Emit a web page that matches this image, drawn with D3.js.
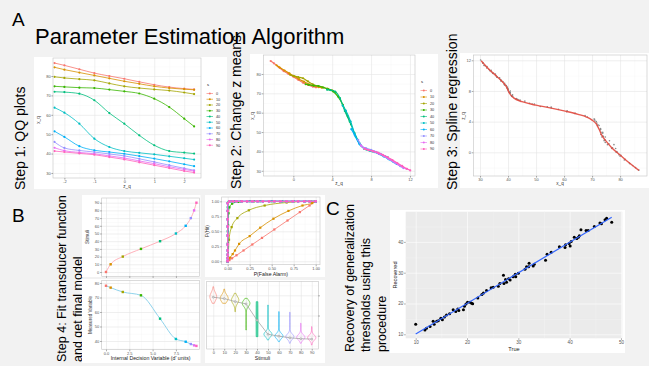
<!DOCTYPE html>
<html>
<head>
<meta charset="utf-8">
<script src="https://cdn.jsdelivr.net/npm/d3@7"></script>
<style>
  body { margin: 0; background: #f2f2f2; }
  svg { display: block; }
</style>
</head>
<body>
<svg id="fig" width="649" height="366"></svg>
<script>
// ---- data ----
const stimuli = [0, 10, 20, 30, 40, 50, 60, 70, 80, 90];
const stimColors = ['#F8766D', '#D89000', '#A3A500', '#39B600', '#00BF7D', '#00BFC4', '#00B0F6', '#9590FF', '#E76BF3', '#FF62BC'];

// step 1: sample quantiles x_q against normal quantiles z_q, one row per stimulus
const qqZ = [-2.33, -2, -1.5, -1, -0.5, 0, 0.5, 1, 1.5, 2, 2.33];
const qqX = [
  [86.7, 85.5, 83.5, 81.5, 80.0, 78.6, 77.0, 75.5, 74.3, 73.5, 73.1],
  [84.5, 83.3, 81.8, 80.3, 78.8, 77.3, 76.0, 74.7, 73.8, 73.2, 72.9],
  [79.6, 79.0, 78.4, 77.8, 76.2, 74.7, 73.8, 73.1, 72.5, 71.5, 70.7],
  [74.7, 74.4, 74.0, 73.8, 73.0, 72.1, 71.0, 68.3, 64.0, 58.0, 54.0],
  [71.9, 71.7, 70.9, 67.5, 60.9, 55.4, 49.4, 44.3, 41.3, 40.5, 40.0],
  [63.7, 61.1, 55.4, 47.7, 43.4, 41.3, 40.4, 39.6, 38.6, 37.6, 36.9],
  [51.5, 48.6, 43.8, 41.7, 40.8, 39.9, 38.7, 37.4, 36.0, 34.5, 33.5],
  [46.0, 42.9, 41.6, 40.8, 39.8, 38.8, 37.3, 35.7, 34.0, 32.4, 31.4],
  [43.0, 41.5, 40.6, 39.9, 38.8, 37.7, 36.2, 34.8, 33.2, 31.8, 31.0],
  [41.3, 40.8, 40.1, 39.4, 38.2, 37.0, 35.5, 34.0, 32.5, 31.0, 30.2]
];
// step 2: shift of each stimulus' z means
const zMeans = [0, 0.6, 2.0, 3.6, 5.8, 7.4, 8.3, 9.0, 9.3, 9.7];
// step 3: spline fit
const splineXq = [30.4, 33, 36, 38, 39.5, 40.5, 42, 45, 50, 55, 60, 65, 68, 70, 71.5, 72.5, 73.5, 75, 77, 80, 83, 86.7];
const splineZq = [11.95, 10.9, 9.9, 9.2, 8.5, 7.7, 7.1, 6.6, 6.15, 5.8, 5.4, 4.95, 4.6, 4.2, 3.7, 3.0, 2.2, 1.45, 0.6, -0.35, -1.3, -2.35];

// step 4
const dPrime = [0, 0.5, 1.8, 3.75, 5.8, 7.5, 8.55, 9.1, 9.45, 9.7];
const measured = [78.1, 76.8, 73.8, 71.5, 55.4, 41.4, 39.5, 37.9, 37.0, 36.6];
const rocEdgeHit = [0, 0.01, 0.055, 0.11, 0.18, 0.28, 0.43, 0.58, 0.70, 0.84, 0.97];
const rocTopFa = [0.02, 0.06, 0.1, 0.16, 0.22, 0.28, 0.34, 0.4, 0.47, 0.53, 0.6, 0.67, 0.74, 0.8, 0.87, 0.93, 1];
const rocFa = [
  [0, 0.02, 0.05, 0.1, 0.18, 0.28, 0.39, 0.53, 0.68, 0.82, 0.93, 1],
  [0, 0.026, 0.057, 0.083, 0.13, 0.25, 0.37, 0.52, 0.69, 0.85, 0.96, 1],
  [0, 0.005, 0.015, 0.045, 0.11, 0.24, 0.42, 0.67, 0.94, 1],
  [0, 0.002, 0.005, 0.01, 0.02, 0.05, 0.12, 0.3, 0.6, 1],
  [0, 0, 0, 0.01, 0.03, 0.08, 0.15, 0.25, 0.37, 0.5, 0.62, 0.75, 0.88, 1]
];
const rocHit = [
  [0, 0.02, 0.05, 0.1, 0.18, 0.28, 0.39, 0.53, 0.68, 0.82, 0.93, 1],
  [0, 0.06, 0.12, 0.18, 0.29, 0.42, 0.56, 0.71, 0.84, 0.93, 0.97, 1],
  [0, 0.05, 0.36, 0.57, 0.72, 0.85, 0.93, 0.98, 1, 1],
  [0, 0.3, 0.6, 0.8, 0.9, 0.96, 0.99, 1, 1, 1],
  [0, 0.5, 0.9, 0.99, 1, 1, 1, 1, 1, 1, 1, 1, 1, 1]
];
const violinLo = [72.1, 72.1, 63.8, 45.6, 39.0, 35.7, 34.1, 32.5, 32.5, 30.8];
const violinHi = [88.5, 86.2, 82.0, 77.0, 73.7, 70.4, 63.8, 63.2, 52.3, 48.9];
const violinMode = [78.6, 77.0, 75.3, 72.1, 55.4, 41.4, 39.7, 39.0, 38.4, 38.0];
const violinSpread = [4, 3.5, 3.5, 3, 30, 2.5, 2.5, 2.5, 2.5, 2.5];

// C: recovered vs true generalization thresholds
const trueThr = [10, 11.8, 12.1, 12.8, 13.4, 13.6, 14.1, 14.4, 14.9, 15.2, 15.6, 16.0, 16.6, 17.3, 17.8, 18.2, 18.4, 19.3, 19.5, 19.8,
  20.1, 20.6, 20.9, 21.1, 22.1, 22.9, 23.2, 23.8, 24.7, 25.1, 26.1, 26.4, 27.1, 27.2, 27.5, 27.7, 28.1, 28.4, 29.0, 29.4,
  29.5, 30.0, 31.3, 31.6, 32.0, 32.1, 32.9, 33.1, 35.3, 35.6, 36.4, 38.0, 39.1, 39.2, 39.9, 40.1, 40.3, 40.9, 41.4, 41.7,
  41.9, 42.2, 43.2, 43.6, 44.8, 45.9, 46.2, 46.9, 47.2, 48.2];
const recThr = [13.3, 11.4, 12.0, 12.5, 14.2, 13.3, 14.2, 14.4, 15.2, 14.7, 15.6, 16.3, 16.7, 18.0, 17.4, 18.2, 17.7, 18.0, 19.1, 19.8,
  20.4, 20.4, 20.1, 19.9, 21.8, 22.9, 23.4, 24.2, 25.1, 25.3, 25.6, 26.5, 29.2, 26.5, 27.8, 26.9, 28.0, 27.6, 28.7, 29.5,
  28.7, 29.8, 31.1, 31.9, 31.9, 33.1, 32.2, 32.7, 34.0, 36.0, 36.6, 38.4, 38.2, 39.1, 39.5, 38.7, 40.1, 41.5, 41.1, 41.5,
  42.0, 43.9, 43.7, 43.7, 45.0, 46.1, 45.9, 47.2, 47.7, 46.4];

// ---- drawing ----
const FONT = "'Liberation Sans', Arial, sans-serif";
const svg = d3.select('#fig').attr('font-family', FONT);

function box(x0, y0, x1, y1) {
  svg.append('rect').attr('x', x0).attr('y', y0).attr('width', x1 - x0).attr('height', y1 - y0).attr('fill', '#fff');
}

function label(x, y, str, size, opts) {
  opts = opts || {};
  const t = svg.append('text').attr('font-size', size).attr('fill', opts.fill || '#000').text(str);
  if (opts.rot) t.attr('transform', 'translate(' + x + ',' + y + ') rotate(-90)');
  else t.attr('x', x).attr('y', y);
  if (opts.anchor) t.attr('text-anchor', opts.anchor);
  return t;
}

// one ggplot-like panel: background, grid, border, axes; returns scales and a layer for marks
function panel(o) {
  const gray = o.theme === 'gray';
  const x = o.xScale || d3.scaleLinear().domain(o.xDomain).range([o.x0, o.x1]);
  const y = d3.scaleLinear().domain(o.yDomain).range([o.y1, o.y0]);
  const bg = svg.append('g');
  bg.append('rect').attr('x', o.x0).attr('y', o.y0).attr('width', o.x1 - o.x0).attr('height', o.y1 - o.y0)
    .attr('fill', gray ? '#ebebeb' : '#fff');

  const grid = (scale, vals, isX, color, w) => {
    if (!vals) return;
    const ax = isX ? d3.axisBottom(scale).tickSize(-(o.y1 - o.y0)) : d3.axisLeft(scale).tickSize(-(o.x1 - o.x0));
    const gg = bg.append('g')
      .attr('transform', isX ? 'translate(0,' + o.y1 + ')' : 'translate(' + o.x0 + ',0)')
      .call(ax.tickValues(vals).tickFormat(() => ''));
    gg.select('.domain').remove();
    gg.selectAll('line').attr('stroke', color).attr('stroke-width', w);
  };
  grid(x, o.xMinor, true, gray ? '#f5f5f5' : '#f4f4f4', 0.4);
  grid(y, o.yMinor, false, gray ? '#f5f5f5' : '#f4f4f4', 0.4);
  grid(x, o.xMajor, true, gray ? '#ffffff' : '#e4e4e4', 0.6);
  grid(y, o.yMajor, false, gray ? '#ffffff' : '#e4e4e4', 0.6);

  const layer = svg.append('g');

  if (!gray) {
    svg.append('rect').attr('x', o.x0).attr('y', o.y0).attr('width', o.x1 - o.x0).attr('height', o.y1 - o.y0)
      .attr('fill', 'none').attr('stroke', '#c4c4c4').attr('stroke-width', 0.6);
  }

  const fs = o.fs || 4;
  const style = a => {
    a.select('.domain').remove();
    a.attr('font-family', FONT).attr('font-size', fs);
    a.selectAll('line').attr('stroke', '#555').attr('stroke-width', 0.5);
    a.selectAll('text').attr('fill', '#555');
  };
  const xa = svg.append('g').attr('transform', 'translate(0,' + o.y1 + ')')
    .call(d3.axisBottom(x).tickValues(o.xMajor).tickSize(1.6).tickPadding(0.8)
      .tickFormat(o.xLabels === false ? () => '' : (o.xFmt || (d => d))));
  style(xa);
  const yAxis = o.yRight ? d3.axisRight(y) : d3.axisLeft(y);
  const ya = svg.append('g').attr('transform', 'translate(' + (o.yRight ? o.x1 : o.x0) + ',0)')
    .call(yAxis.tickValues(o.yMajor).tickSize(1.6).tickPadding(0.8)
      .tickFormat(o.yLabels === false ? () => '' : (o.yFmt || (d => d))));
  style(ya);
  return { x: x, y: y, g: layer };
}

function legend(x, y, dy) {
  label(x, y, 's', 4.2);
  stimuli.forEach((s, i) => {
    const yy = y + 7.5 + i * dy;
    svg.append('line').attr('x1', x - 0.5).attr('x2', x + 6).attr('y1', yy).attr('y2', yy)
      .attr('stroke', stimColors[i]).attr('stroke-width', 0.6);
    svg.append('circle').attr('cx', x + 2.8).attr('cy', yy).attr('r', 1).attr('fill', stimColors[i]);
    label(x + 9, yy + 1.4, s, 3.8, { fill: '#333' });
  });
}

// ---- panel A titles ----
label(12, 26, 'A', 19);
label(35, 43.5, 'Parameter Estimation Algorithm', 22);

// ---- step 1: QQ plots ----
box(34, 57, 227, 189);
label(25, 190, 'Step 1: QQ plots', 14, { rot: true });
const p1 = panel({
  x0: 53, x1: 201, y0: 58, y1: 178, xDomain: [-2.38, 2.56], yDomain: [27.4, 89.3],
  xMajor: [-2, -1, 0, 1, 2], xMinor: [-1.5, -0.5, 0.5, 1.5],
  yMajor: [30, 40, 50, 60, 70, 80], yMinor: [35, 45, 55, 65, 75, 85]
});
const qqLine1 = d3.line().curve(d3.curveMonotoneX).x(d => p1.x(d[0])).y(d => p1.y(d[1]));
qqX.forEach((row, i) => {
  const pts = row.map((v, j) => [qqZ[j], v]);
  p1.g.append('path').attr('d', qqLine1(pts)).attr('fill', 'none').attr('stroke', stimColors[i]).attr('stroke-width', 0.8);
  p1.g.selectAll(null).data(pts).enter().append('circle')
    .attr('cx', d => p1.x(d[0])).attr('cy', d => p1.y(d[1])).attr('r', 1.1).attr('fill', stimColors[i]);
});
label(127, 187.5, 'z_q', 4.6, { anchor: 'middle', fill: '#333' });
label(40, 120, 'x_q', 4.6, { rot: true, anchor: 'middle', fill: '#333' });
legend(207, 86, 5.75);

// ---- step 2: change z means ----
box(250, 54, 438, 188);
label(241, 189, 'Step 2: Change z means', 14, { rot: true });
const p2 = panel({
  x0: 263.3, x1: 415, y0: 55, y1: 176, xDomain: [-3.09, 12.52], yDomain: [27.3, 89.8],
  xMajor: [0, 4, 8, 12], xMinor: [-2, 2, 6, 10],
  yMajor: [30, 40, 50, 60, 70, 80], yMinor: [35, 45, 55, 65, 75, 85]
});
const qqLine2 = d3.line().curve(d3.curveMonotoneX).x(d => p2.x(d[0])).y(d => p2.y(d[1]));
qqX.forEach((row, i) => {
  const pts = row.map((v, j) => [qqZ[j] + zMeans[i], v]);
  p2.g.append('path').attr('d', qqLine2(pts)).attr('fill', 'none').attr('stroke', stimColors[i]).attr('stroke-width', 1.2);
  p2.g.selectAll(null).data(pts).enter().append('circle')
    .attr('cx', d => p2.x(d[0])).attr('cy', d => p2.y(d[1])).attr('r', 1.1).attr('fill', stimColors[i]);
});
label(339, 185, 'z_q', 4.6, { anchor: 'middle', fill: '#333' });
label(254, 116, 'x_q', 4.6, { rot: true, anchor: 'middle', fill: '#333' });
legend(421, 83, 6.5);

// ---- step 3: spline regression ----
box(460, 53, 649, 188);
label(457, 190, 'Step 3: Spline regression', 14, { rot: true });
const p3 = panel({
  x0: 473.3, x1: 647, y0: 55, y1: 176, xDomain: [27.6, 89.6], yDomain: [-3.09, 12.69],
  xMajor: [30, 40, 50, 60, 70, 80], xMinor: [35, 45, 55, 65, 75, 85],
  yMajor: [0, 4, 8, 12], yMinor: [-2, 2, 6, 10]
});
qqX.forEach((row, i) => {
  p3.g.selectAll(null).data(row.map((v, j) => [v, qqZ[j] + zMeans[i]])).enter().append('circle')
    .attr('cx', d => p3.x(d[0])).attr('cy', d => p3.y(d[1])).attr('r', 0.8).attr('fill', '#8a8a8a');
});
const splineLine = d3.line().curve(d3.curveMonotoneX).x(d => p3.x(d[0])).y(d => p3.y(d[1]));
p3.g.append('path').attr('d', splineLine(splineXq.map((v, i) => [v, splineZq[i]])))
  .attr('fill', 'none').attr('stroke', '#e2483d').attr('stroke-width', 1.4).attr('stroke-opacity', 0.9);
label(560, 185, 'x_q', 4.6, { anchor: 'middle', fill: '#333' });
label(465, 116, 'z_q', 4.6, { rot: true, anchor: 'middle', fill: '#333' });

// ---- panel B ----
label(12, 222, 'B', 19);
label(66, 362, 'Step 4: Fit transducer function', 12.5, { rot: true });
label(82, 362, 'and get final model', 12.5, { rot: true });

// B top-left: stimuli vs d'
box(82, 195, 200.5, 277);
const b1 = panel({
  x0: 101.7, x1: 199.5, y0: 198, y1: 276.3, xDomain: [-0.46, 10.03], yDomain: [-5.6, 96.1],
  xMajor: [0, 2.5, 5, 7.5], xMinor: [1.25, 3.75, 6.25, 8.75], xLabels: false,
  yMajor: d3.range(0, 100, 10), yMinor: d3.range(5, 95, 10)
});
const b1Line = d3.line().curve(d3.curveMonotoneX).x(d => b1.x(d[0])).y(d => b1.y(d[1]));
b1.g.append('path').attr('d', b1Line(dPrime.map((v, i) => [v, stimuli[i]])))
  .attr('fill', 'none').attr('stroke', '#ffb0ba').attr('stroke-width', 1);
b1.g.selectAll(null).data(dPrime).enter().append('rect')
  .attr('x', d => b1.x(d) - 1.2).attr('y', (d, i) => b1.y(stimuli[i]) - 1.2).attr('width', 2.4).attr('height', 2.4)
  .attr('fill', (d, i) => stimColors[i]);
label(89, 237, 'Stimuli', 4.6, { rot: true, anchor: 'middle', fill: '#333' });

// B bottom-left: measured variable vs d'
box(82, 279, 200.5, 363);
const b4 = panel({
  x0: 101.7, x1: 199.5, y0: 280.3, y1: 349.7, xDomain: [-0.46, 10.03], yDomain: [34.0, 81.86],
  xMajor: [0, 2.5, 5, 7.5], xMinor: [1.25, 3.75, 6.25, 8.75], xFmt: d3.format('.1f'),
  yMajor: [40, 50, 60, 70, 80], yMinor: [35, 45, 55, 65, 75]
});
const b4Line = d3.line().curve(d3.curveMonotoneX).x(d => b4.x(d[0])).y(d => b4.y(d[1]));
b4.g.append('path').attr('d', b4Line(dPrime.map((v, i) => [v, measured[i]])))
  .attr('fill', 'none').attr('stroke', '#8fd3ec').attr('stroke-width', 1);
b4.g.selectAll(null).data(dPrime).enter().append('rect')
  .attr('x', d => b4.x(d) - 1.2).attr('y', (d, i) => b4.y(measured[i]) - 1.2).attr('width', 2.4).attr('height', 2.4)
  .attr('fill', (d, i) => stimColors[i]);
label(150.6, 359.6, "Internal Decision Variable (d' units)", 5.2, { anchor: 'middle', fill: '#222' });
label(92, 315, 'Measured Variable', 4.6, { rot: true, anchor: 'middle', fill: '#333' });

// B top-right: ROC curves
box(205, 195, 325, 277);
const b2 = panel({
  x0: 221.7, x1: 320, y0: 197, y1: 264.7, xDomain: [-0.068, 1.049], yDomain: [-0.057, 1.072],
  xMajor: [0, 0.25, 0.5, 0.75, 1], xMinor: [0.125, 0.375, 0.625, 0.875], xFmt: d3.format('.2f'),
  yMajor: [0, 0.25, 0.5, 0.75, 1], yMinor: [0.125, 0.375, 0.625, 0.875], yFmt: d3.format('.2f')
});
stimuli.forEach((s, i) => {
  let pts;
  if (i < rocFa.length) pts = rocFa[i].map((v, j) => [v, rocHit[i][j]]);
  else pts = rocEdgeHit.map(h => [0, h]).concat(rocTopFa.map(f => [f, 1]));
  const curve = i > 0 && i < 4 ? d3.curveMonotoneX : d3.curveLinear;
  const ln = d3.line().curve(curve).x(d => b2.x(d[0])).y(d => b2.y(d[1]));
  b2.g.append('path').attr('d', ln(pts)).attr('fill', 'none').attr('stroke', stimColors[i]).attr('stroke-width', 0.8);
  b2.g.selectAll(null).data(pts).enter().append('rect')
    .attr('x', d => b2.x(d[0]) - 1.1).attr('y', d => b2.y(d[1]) - 1.1).attr('width', 2.2).attr('height', 2.2)
    .attr('fill', stimColors[i]);
});
label(270.8, 275.5, 'P(False Alarm)', 5.2, { anchor: 'middle', fill: '#222' });
label(209, 231, 'P(Hit)', 4.6, { rot: true, anchor: 'middle', fill: '#333' });

// B bottom-right: violins of the final model
box(205, 280, 325, 363);
const vx = d3.scalePoint().domain(stimuli).range([206.7, 318.3]).padding(0.6);
const b3 = panel({
  x0: 206.7, x1: 318.3, y0: 281.3, y1: 349, xScale: vx, yDomain: [26.8, 93.9],
  xMajor: stimuli, yMajor: [40, 60, 80], yMinor: [30, 50, 70, 90], yRight: true, yLabels: false
});
const dens = stimuli.map((s, i) => {
  const vals = d3.range(0, 41).map(k => violinLo[i] + (violinHi[i] - violinLo[i]) * k / 40);
  const w = vals.map(v => Math.exp(-0.5 * Math.pow((v - violinMode[i]) / violinSpread[i], 2)) + 0.06);
  return { vals: vals, w: w, area: d3.sum(w) * (violinHi[i] - violinLo[i]) / 40 };
});
const minArea = d3.min(dens, d => d.area);
dens.forEach((d, i) => {
  const cx = vx(stimuli[i]);
  const k = Math.min(3.9, 4.6 * minArea / d.area);
  const shape = d3.area().curve(d3.curveBasis)
    .y(v => b3.y(v[0])).x0(v => cx - k * v[1]).x1(v => cx + k * v[1]);
  b3.g.append('path').attr('d', shape(d.vals.map((v, j) => [v, d.w[j]])))
    .attr('fill', stimColors[i]).attr('fill-opacity', i === 4 ? 0.6 : 0.04)
    .attr('stroke', stimColors[i]).attr('stroke-width', 0.6);
});
const meanLine = d3.line().x((d, i) => vx(stimuli[i])).y(d => b3.y(d));
b3.g.append('path').attr('d', meanLine(measured)).attr('fill', 'none').attr('stroke', '#9a9a9a').attr('stroke-width', 0.7);
b3.g.selectAll(null).data(measured).enter().append('circle')
  .attr('cx', (d, i) => vx(stimuli[i])).attr('cy', d => b3.y(d)).attr('r', 1)
  .attr('fill', '#ddd').attr('stroke', '#888').attr('stroke-width', 0.4);
label(262.5, 359.6, 'Stimuli', 5.2, { anchor: 'middle', fill: '#222' });

// ---- panel C ----
label(326, 215, 'C', 19);
label(354, 352, 'Recovery of generalization', 12.5, { rot: true });
label(370, 352, 'thresholds using this', 12.5, { rot: true });
label(386, 352, 'procedure', 12.5, { rot: true });
box(390, 210, 625, 353);
const pc = panel({
  x0: 405.7, x1: 622.3, y0: 211.7, y1: 338.3, xDomain: [8.05, 50.26], yDomain: [8.7, 49.8], theme: 'gray', fs: 4.6,
  xMajor: [10, 20, 30, 40, 50], xMinor: [15, 25, 35, 45],
  yMajor: [10, 20, 30, 40], yMinor: [15, 25, 35, 45]
});
const pairs = trueThr.map((t, i) => [t, recThr[i]]);
const mx = d3.mean(trueThr), my = d3.mean(recThr);
const slope = d3.sum(pairs, d => (d[0] - mx) * (d[1] - my)) / d3.sum(pairs, d => (d[0] - mx) * (d[0] - mx));
const icpt = my - slope * mx;
const ext = d3.extent(trueThr);
pc.g.selectAll(null).data(pairs).enter().append('circle')
  .attr('cx', d => pc.x(d[0])).attr('cy', d => pc.y(d[1])).attr('r', 1.5).attr('fill', '#000');
pc.g.append('line')
  .attr('x1', pc.x(ext[0])).attr('y1', pc.y(icpt + slope * ext[0]))
  .attr('x2', pc.x(ext[1])).attr('y2', pc.y(icpt + slope * ext[1]))
  .attr('stroke', '#3366ff').attr('stroke-width', 1.2);
label(514, 350.5, 'True', 5.6, { anchor: 'middle', fill: '#222' });
label(397, 275, 'Recovered', 5.6, { rot: true, anchor: 'middle', fill: '#222' });
</script>
</body>
</html>
